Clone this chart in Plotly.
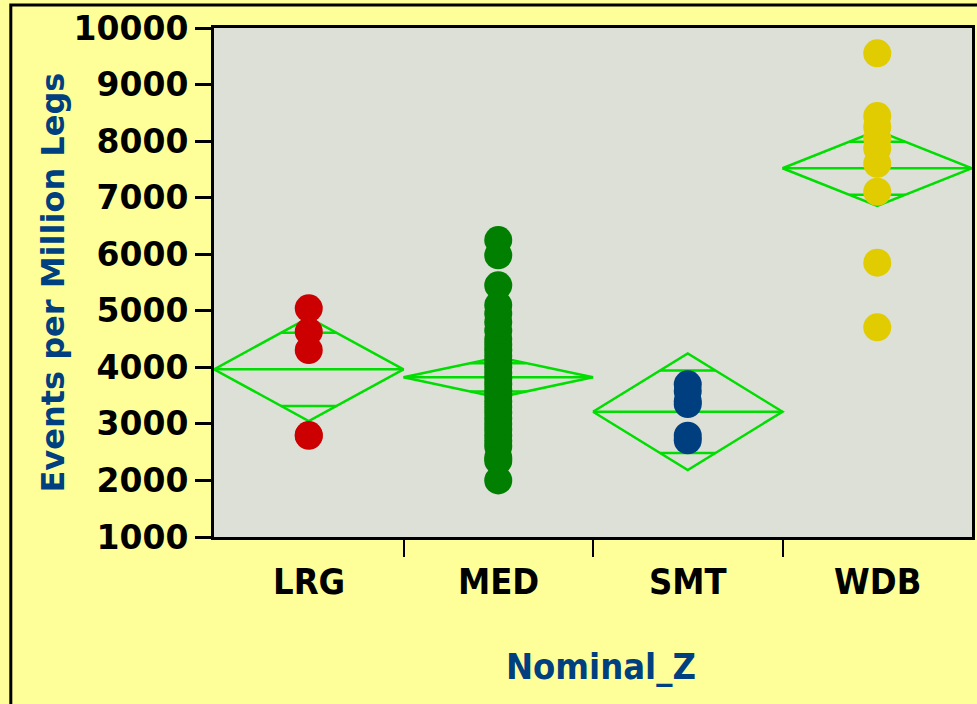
import math
import plotly.graph_objects as go

# ---------------- data ----------------
categories = ["LRG", "MED", "SMT", "WDB"]

lrg_values = [5044, 4630, 4306, 2803, 2790]
med_values = [6250, 5980, 5450, 5100, 4950, 4800, 4650, 4500, 4400, 4300,
              4200, 4100, 4000, 3900, 3800, 3700, 3600, 3500, 3400, 3300,
              3200, 3100, 3000, 2900, 2800, 2700, 2600, 2400, 2350, 2000]
smt_values = [3700, 3580, 3400, 3350, 2790, 2710]
wdb_values = [9552, 8443, 8250, 8050, 7870, 7600, 7105, 5850, 4707]

group_values = [lrg_values, med_values, smt_values, wdb_values]

# means diamonds (mean and 95% CI half width)
group_means = [3965, 3823, 3215, 7520]
ci_half_widths = [915, 355, 1030, 665]

point_colors = ["#CC0000", "#007F00", "#003F7F", "#E0CC00"]
diamond_color = "#00DD00"

y_tick_values = list(range(1000, 10001, 1000))
y_tick_labels = [str(v) for v in y_tick_values]
y_title = "Events per Million Legs"
x_title = "Nominal_Z"

FONT = "DejaVu Sans"
FONT_C = "DejaVu Sans Condensed, DejaVu Sans"
TITLE_COLOR = "#004080"

fig = go.Figure()

# ---------------- means diamonds ----------------
for i, (m, d) in enumerate(zip(group_means, ci_half_widths)):
    xs, ys = [], []
    xs += [i - 0.5, i, i + 0.5, i, i - 0.5, None]
    ys += [m, m + d, m, m - d, m, None]
    xs += [i - 0.5, i + 0.5, None]
    ys += [m, m, None]
    h = d / math.sqrt(2)
    hw = 0.5 * (1 - h / d)
    for s in (1, -1):
        xs += [i - hw, i + hw, None]
        ys += [m + s * h, m + s * h, None]
    fig.add_trace(go.Scatter(x=xs, y=ys, mode="lines",
                             line=dict(color=diamond_color, width=2.5),
                             hoverinfo="skip", showlegend=False))

# ---------------- points ----------------
for i, vals in enumerate(group_values):
    fig.add_trace(go.Scatter(x=[i] * len(vals), y=vals, mode="markers",
                             marker=dict(color=point_colors[i], size=28,
                                         line=dict(width=0)),
                             name=categories[i], showlegend=False))

# ---------------- layout ----------------
annotations = []
for i, c in enumerate(categories):
    annotations.append(dict(x=i, xref="x", y=0, yref="paper", yshift=-44,
                            yanchor="middle", xanchor="center", showarrow=False,
                            text=c, font=dict(family=FONT_C, size=36, color="black",
                                              weight="bold")))
annotations.append(dict(x=0, xref="paper", y=0.5, yref="paper", xshift=-162,
                        xanchor="center", yanchor="middle", textangle=-90,
                        showarrow=False, text=y_title,
                        font=dict(family=FONT, size=32, color=TITLE_COLOR,
                                  weight="bold")))
annotations.append(dict(x=0.5, xref="paper", y=0, yref="paper", xshift=8,
                        yshift=-129, xanchor="center", yanchor="middle",
                        showarrow=False, text=x_title,
                        font=dict(family=FONT_C, size=36, color=TITLE_COLOR,
                                  weight="bold")))

fig.update_layout(
    width=977, height=704,
    margin=dict(l=214, r=2, t=28, b=167, pad=0),
    paper_bgcolor="#FFFF99",
    plot_bgcolor="#DCE0D6",
    showlegend=False,
    annotations=annotations,
    shapes=[dict(type="rect", xref="paper", yref="paper",
                 x0=(10 - 214) / 761, x1=1.2,
                 y0=-0.6, y1=(537 - 5) / 509,
                 line=dict(color="black", width=3), layer="below")],
    xaxis=dict(range=[-0.5, 3.5], tickvals=[0.5, 1.5, 2.5],
               ticktext=["", "", ""], ticks="outside", ticklen=17,
               tickwidth=2, tickcolor="black", showline=True,
               linecolor="black", linewidth=3, mirror=True,
               showgrid=False, zeroline=False, fixedrange=True),
    yaxis=dict(range=[1000, 10000], tickvals=y_tick_values,
               ticktext=y_tick_labels,
               ticks="outside", ticklen=16, tickwidth=3, tickcolor="black",
               showline=True, linecolor="black", linewidth=3, mirror=True,
               showgrid=False, zeroline=False,
               tickfont=dict(family=FONT, size=33, color="black",
                             weight="bold")),
)

fig.write_html("out.html",
               config={"displayModeBar": False},
               post_script="document.body.style.margin='0';"
                           "document.body.style.overflow='hidden';"
                           "document.body.style.background='#FFFF99';")
